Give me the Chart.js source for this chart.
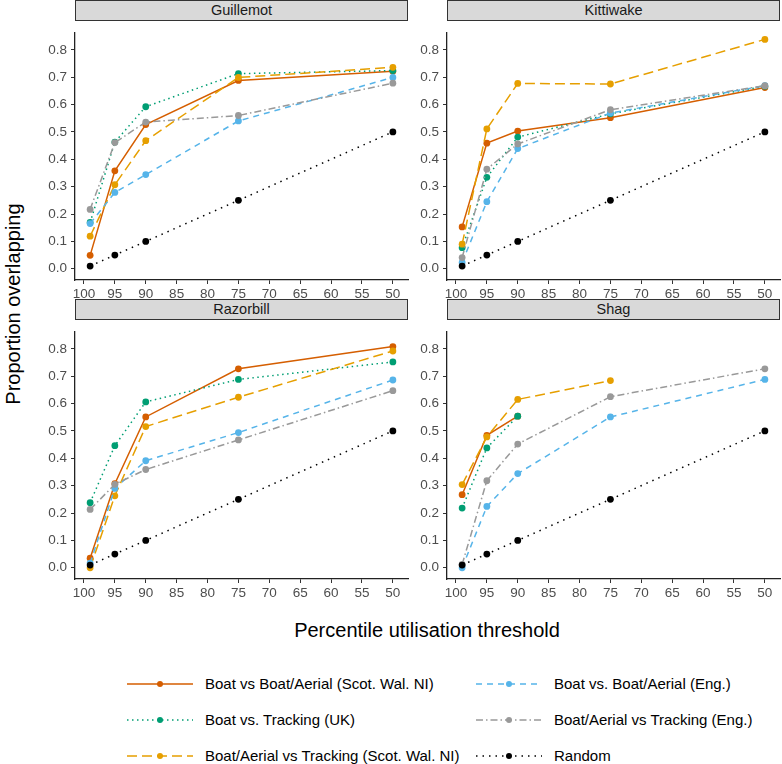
<!DOCTYPE html>
<html>
<head>
<meta charset="utf-8">
<script src="https://cdn.jsdelivr.net/npm/chart.js@4.4.1/dist/chart.umd.min.js"></script>
<style>
  body { margin: 0; background: #fff; font-family: Arial, "Liberation Sans", sans-serif; }
  #wrap { position: relative; width: 782px; height: 764px; overflow: hidden; }
  .strip { position: absolute; height: 21px; background: #d9d9d9; border: 1px solid #333; box-sizing: border-box;
           text-align: center; font-size: 14.5px; line-height: 19px; color: #1a1a1a; }
  .panel { position: absolute; }
  .title { position: absolute; font-size: 20px; color: #000; white-space: nowrap; }
  .leg { position: absolute; height: 16px; }
  .legtext { position: absolute; font-size: 15px; color: #000; white-space: nowrap; line-height: 16px; }
</style>
</head>
<body>
<div id="wrap">
  <div class="title" id="xtitle">Percentile utilisation threshold</div>
  <div class="title" id="ytitle">Proportion overlapping</div>
</div>
<script>
// x positions of the data and the axis labels
const thresholds = [99, 95, 90, 75, 50];
const xTicks = [100, 95, 90, 85, 80, 75, 70, 65, 60, 55, 50];
const yTicks = [0, 0.1, 0.2, 0.3, 0.4, 0.5, 0.6, 0.7, 0.8];
const species = ['Guillemot', 'Kittiwake', 'Razorbill', 'Shag'];

// one row per species (Guillemot, Kittiwake, Razorbill, Shag)
const boatVsBoatAerialScot = [
  [0.049, 0.358, 0.527, 0.688, 0.722],
  [0.153, 0.459, 0.503, 0.552, 0.662],
  [0.035, 0.307, 0.551, 0.727, 0.808],
  [0.267, 0.484, 0.554, null, null]
];
const boatVsTrackingUK = [
  [0.169, 0.463, 0.592, 0.713, 0.724],
  [0.077, 0.334, 0.481, 0.566, 0.667],
  [0.238, 0.446, 0.606, 0.688, 0.752],
  [0.218, 0.438, 0.554, null, null]
];
const boatAerialVsTrackingScot = [
  [0.119, 0.307, 0.468, 0.699, 0.736],
  [0.090, 0.511, 0.677, 0.675, 0.838],
  [0.000, 0.263, 0.516, 0.623, 0.792],
  [0.304, 0.478, 0.615, 0.684, null]
];
const boatVsBoatAerialEng = [
  [0.165, 0.279, 0.344, 0.540, 0.699],
  [0.023, 0.245, 0.439, 0.569, 0.669],
  [0.017, 0.290, 0.391, 0.494, 0.686],
  [0.000, 0.224, 0.344, 0.551, 0.688]
];
const boatAerialVsTrackingEng = [
  [0.217, 0.461, 0.536, 0.560, 0.678],
  [0.041, 0.364, 0.456, 0.581, 0.669],
  [0.213, 0.305, 0.359, 0.467, 0.647],
  [0.012, 0.318, 0.452, 0.625, 0.727]
];
const randomOverlap = [0.01, 0.05, 0.10, 0.25, 0.50];

const seriesDefs = [
  { name: 'Boat vs Boat/Aerial (Scot. Wal. NI)', values: boatVsBoatAerialScot, color: '#D55E00', dash: [] },
  { name: 'Boat vs. Tracking (UK)', values: boatVsTrackingUK, color: '#009E73', dash: [1.5, 3.5] },
  { name: 'Boat/Aerial vs Tracking (Scot. Wal. NI)', values: boatAerialVsTrackingScot, color: '#E69F00', dash: [10, 5] },
  { name: 'Boat vs. Boat/Aerial (Eng.)', values: boatVsBoatAerialEng, color: '#56B4E9', dash: [6, 5] },
  { name: 'Boat/Aerial vs Tracking (Eng.)', values: boatAerialVsTrackingEng, color: '#999999', dash: [7, 3, 1.5, 3] },
  { name: 'Random', values: species.map(() => randomOverlap), color: '#000000', dash: [1.5, 5] }
];

// panel layout (page pixels)
const plotLefts = [75, 447];
const plotTops = [21, 320];
const plotW = 333, plotH = 259;
const yAxisW = 45, xAxisH = 24, rightPad = 6;

const wrap = document.getElementById('wrap');
const tickFont = { size: 13.5, family: 'Arial, "Liberation Sans", sans-serif' };

species.forEach((sp, idx) => {
  const col = idx % 2, row = Math.floor(idx / 2);
  const left = plotLefts[col], top = plotTops[row];

  const strip = document.createElement('div');
  strip.className = 'strip';
  strip.textContent = sp;
  strip.style.left = left + 'px';
  strip.style.top = (top - 21) + 'px';
  strip.style.width = plotW + 'px';
  wrap.appendChild(strip);

  const canvas = document.createElement('canvas');
  canvas.className = 'panel';
  canvas.width = yAxisW + plotW + rightPad;
  canvas.height = plotH + xAxisH;
  canvas.style.left = (left - yAxisW) + 'px';
  canvas.style.top = top + 'px';
  wrap.appendChild(canvas);

  new Chart(canvas, {
    type: 'line',
    data: {
      datasets: seriesDefs.map((s, k) => ({
        label: s.name,
        data: thresholds.map((t, i) => ({ x: t, y: s.values[idx][i] })),
        borderColor: s.color,
        backgroundColor: s.color,
        borderWidth: 1.5,
        borderDash: s.dash,
        pointRadius: 3.4,
        pointBorderWidth: 0,
        pointBackgroundColor: s.color,
        tension: 0,
        spanGaps: false,
        fill: false,
        order: 6 - k
      }))
    },
    options: {
      responsive: false,
      animation: false,
      layout: { padding: { top: 0, left: 0, right: rightPad, bottom: 0 } },
      plugins: { legend: { display: false }, tooltip: { enabled: false } },
      scales: {
        x: {
          type: 'linear',
          reverse: true,
          min: 47.55,
          max: 101.45,
          afterBuildTicks: (scale) => { scale.ticks = xTicks.map(v => ({ value: v })); },
          afterFit: (scale) => { scale.height = xAxisH; },
          grid: { drawOnChartArea: false, tickLength: 4, color: '#333' },
          border: { color: '#222', width: 1.3 },
          ticks: { padding: 2, color: '#4d4d4d', font: tickFont, maxRotation: 0, autoSkip: false }
        },
        y: {
          min: -0.041,
          max: 0.861,
          afterBuildTicks: (scale) => { scale.ticks = yTicks.map(v => ({ value: v })); },
          afterFit: (scale) => { scale.width = yAxisW; },
          grid: { drawOnChartArea: false, tickLength: 4, color: '#333' },
          border: { color: '#222', width: 1.3 },
          ticks: { padding: 4, color: '#4d4d4d', font: tickFont, autoSkip: false,
                   callback: (v) => Number(v).toFixed(1) }
        }
      }
    }
  });
});

// axis titles
const xt = document.getElementById('xtitle');
xt.style.left = '427px'; xt.style.top = '630px';
xt.style.transform = 'translate(-50%, -50%)';
const yt = document.getElementById('ytitle');
yt.style.left = '13px'; yt.style.top = '304px';
yt.style.transform = 'translate(-50%, -50%) rotate(-90deg)';

// legend, two columns filled top to bottom
const legLineLefts = [127, 476];
const legTextLefts = [205, 554];
const legRows = [684, 720, 756];
seriesDefs.forEach((s, k) => {
  const col = Math.floor(k / 3), row = k % 3;
  const svgNS = 'http://www.w3.org/2000/svg';
  const svg = document.createElementNS(svgNS, 'svg');
  svg.setAttribute('width', 66);
  svg.setAttribute('height', 16);
  svg.setAttribute('class', 'leg');
  svg.style.left = legLineLefts[col] + 'px';
  svg.style.top = (legRows[row] - 8) + 'px';
  const line = document.createElementNS(svgNS, 'line');
  line.setAttribute('x1', 0); line.setAttribute('x2', 66);
  line.setAttribute('y1', 8); line.setAttribute('y2', 8);
  line.setAttribute('stroke', s.color);
  line.setAttribute('stroke-width', 1.5);
  if (s.dash.length) line.setAttribute('stroke-dasharray', s.dash.join(' '));
  svg.appendChild(line);
  const dot = document.createElementNS(svgNS, 'circle');
  dot.setAttribute('cx', 33); dot.setAttribute('cy', 8); dot.setAttribute('r', 3);
  dot.setAttribute('fill', s.color);
  svg.appendChild(dot);
  wrap.appendChild(svg);

  const txt = document.createElement('div');
  txt.className = 'legtext';
  txt.textContent = s.name;
  txt.style.left = legTextLefts[col] + 'px';
  txt.style.top = (legRows[row] - 8) + 'px';
  wrap.appendChild(txt);
});
</script>
</body>
</html>
